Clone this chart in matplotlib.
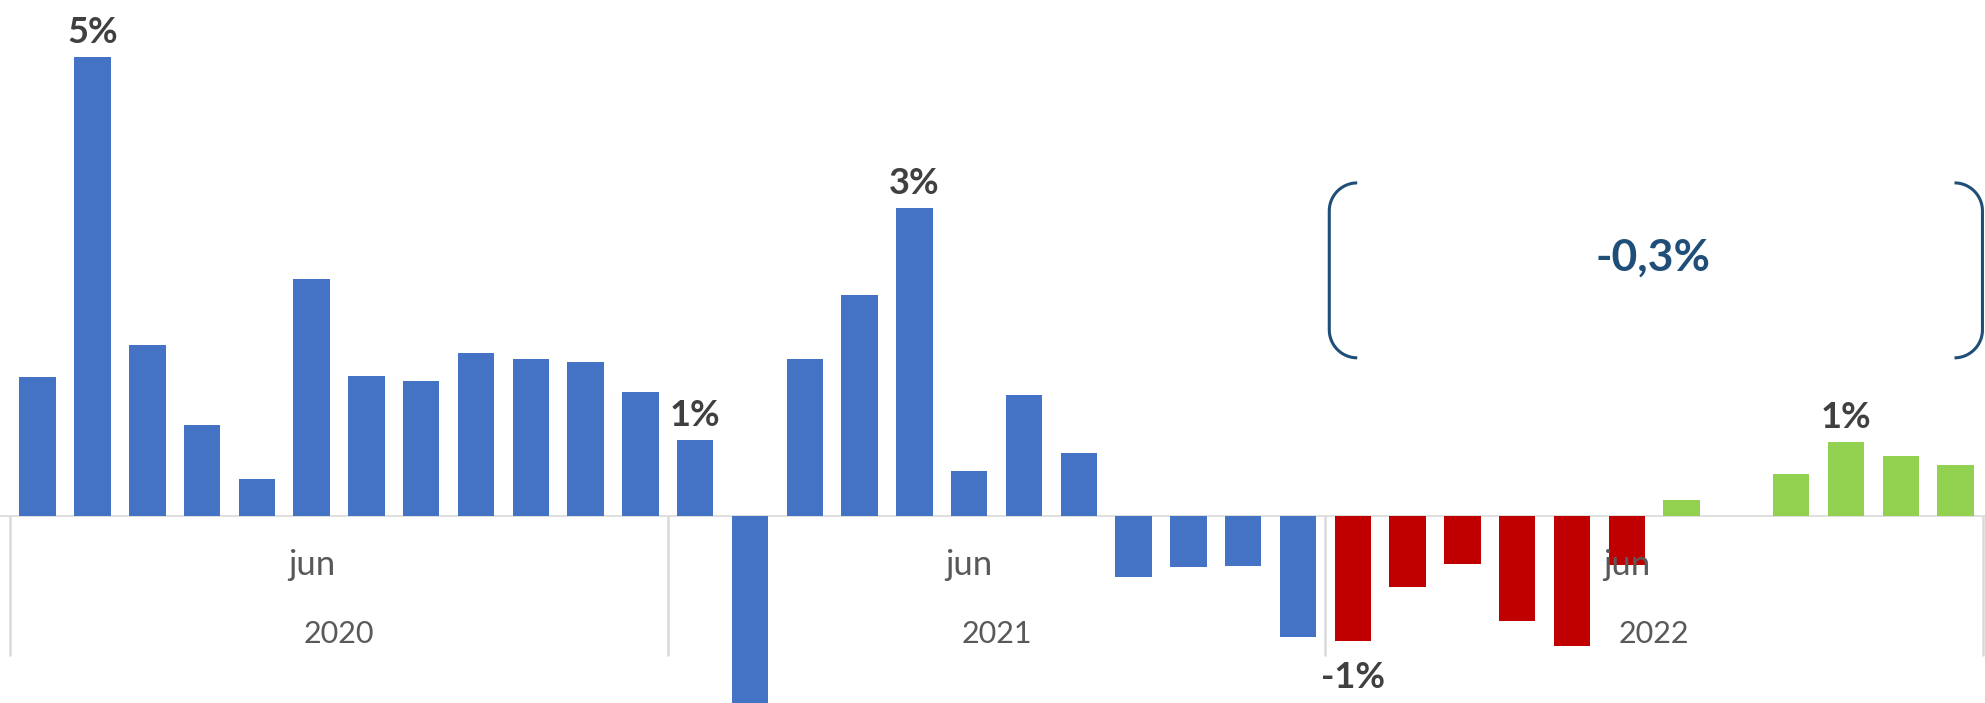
import numpy as np
import matplotlib
matplotlib.use("Agg")
import matplotlib.pyplot as plt

plt.rcParams['font.family'] = ['Lato', 'DejaVu Sans']

# monthly change, %
months = ['ene', 'feb', 'mar', 'abr', 'may', 'jun', 'jul', 'ago', 'sep', 'oct', 'nov', 'dic']
years = ['2020', '2021', '2022']
values_2020 = [1.54, 5.08, 1.90, 1.01, 0.41, 2.63, 1.55, 1.50, 1.81, 1.74, 1.71, 1.38]
values_2021 = [0.85, -2.60, 1.74, 2.45, 3.41, 0.50, 1.34, 0.70, -0.67, -0.56, -0.55, -1.33]
values_2022 = [-1.38, -0.78, -0.53, -1.16, -1.43, -0.54, 0.18, 0.0, 0.47, 0.82, 0.67, 0.57]
shown_month = 'jun'
labelled = [1, 12, 16, 24, 33]      # bars with a value label
period_avg = '-0,3%'

values = np.array(values_2020 + values_2021 + values_2022)
n = len(values)
x = np.arange(n)

blue, red, green = '#4472C4', '#C00000', '#92D050'
colors = [blue] * 24 + [red] * 6 + [green] * 6
navy = '#1F4E79'
grey_line = '#D9D9D9'
grey_text = '#595959'

fig = plt.figure(figsize=(19.85, 7.03), dpi=100)
ax = fig.add_axes([0, 0, 1, 1])
ax.axis('off')

ax.bar(x, values, width=0.665, color=colors, linewidth=0, zorder=2)

# category axis: baseline and group dividers
ax.axhline(0, color=grey_line, lw=1.2, zorder=1)
edges = np.arange(0, n + 1, 12) - 0.5
ax.vlines(edges, -1.54, 0, color=grey_line, lw=1.8, zorder=1)

for k, yr in enumerate(years):
    m = k * 12 + months.index(shown_month)
    ax.text(m, -0.54, shown_month, ha='center', va='center', fontsize=25,
            color=grey_text, zorder=3)
    ax.text(k * 12 + 5.5, -1.30, yr, ha='center', va='center', fontsize=22,
            color=grey_text, zorder=3)

# value labels
for i in labelled:
    v = values[i]
    off = 10 if v > 0 else -34
    ax.annotate('{:.0f}%'.format(v), (x[i], v), xytext=(0, off),
                textcoords='offset points', ha='center', va='baseline',
                fontsize=26, fontweight='bold', color='#404040', zorder=3)

# bracket around the last period
y_top, y_bot = 3.69, 1.755
rx, ry = 0.51, 0.31
t = np.linspace(0, np.pi / 2, 30)


def bracket(xv, side):
    # side = +1 opens right, -1 opens left
    cx = xv + side * rx
    top_x = cx - side * rx * np.sin(t)
    top_y = (y_top - ry) + ry * np.cos(t)
    bot_x = cx - side * rx * np.cos(t)
    bot_y = (y_bot + ry) - ry * np.sin(t)
    ax.plot(np.concatenate([top_x, bot_x]), np.concatenate([top_y, bot_y]),
            color=navy, lw=2.2, solid_capstyle='butt', zorder=3)


bracket(23.57, 1)
bracket(35.49, -1)
ax.text(29.48, 2.86, period_avg, ha='center', va='center', fontsize=32,
        fontweight='bold', color=navy, zorder=3)

ax.set_xlim(-0.5 - 10.3 / 54.8, 35.5 + 2.0 / 54.8)
ax.set_ylim(-2.063, 5.713)

fig.savefig('out.png', dpi=100)
